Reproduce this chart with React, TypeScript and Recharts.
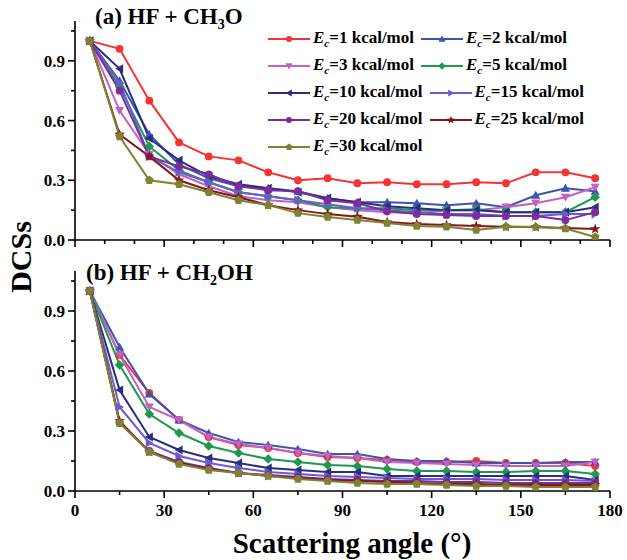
import React from 'react';
import { LineChart, Line, XAxis, YAxis } from 'recharts';

const angles = [5, 15, 25, 35, 45, 55, 65, 75, 85, 95, 105, 115, 125, 135, 145, 155, 165, 175];
const energies = [1, 2, 3, 5, 10, 15, 20, 25, 30];

// panel (a) HF + CH3O
const aEc1 = [1.0, 0.96, 0.7, 0.49, 0.42, 0.4, 0.34, 0.3, 0.31, 0.285, 0.29, 0.28, 0.28, 0.29, 0.285, 0.34, 0.34, 0.31];
const aEc2 = [1.0, 0.8, 0.53, 0.38, 0.31, 0.27, 0.26, 0.245, 0.21, 0.19, 0.19, 0.185, 0.175, 0.185, 0.165, 0.225, 0.26, 0.245];
const aEc3 = [1.0, 0.65, 0.43, 0.33, 0.27, 0.22, 0.2, 0.19, 0.165, 0.15, 0.14, 0.135, 0.15, 0.15, 0.165, 0.185, 0.215, 0.265];
const aEc5 = [1.0, 0.77, 0.47, 0.35, 0.29, 0.24, 0.22, 0.2, 0.165, 0.16, 0.16, 0.15, 0.15, 0.155, 0.14, 0.14, 0.14, 0.215];
const aEc10 = [1.0, 0.86, 0.51, 0.4, 0.32, 0.28, 0.26, 0.24, 0.21, 0.19, 0.17, 0.16, 0.15, 0.15, 0.14, 0.14, 0.14, 0.165];
const aEc15 = [1.0, 0.79, 0.42, 0.34, 0.29, 0.24, 0.22, 0.2, 0.18, 0.16, 0.15, 0.14, 0.13, 0.13, 0.12, 0.12, 0.13, 0.13];
const aEc20 = [1.0, 0.75, 0.42, 0.37, 0.33, 0.27, 0.25, 0.245, 0.2, 0.185, 0.145, 0.13, 0.125, 0.12, 0.12, 0.12, 0.1, 0.14];
const aEc25 = [1.0, 0.53, 0.42, 0.3, 0.25, 0.215, 0.175, 0.15, 0.13, 0.117, 0.09, 0.08, 0.075, 0.07, 0.067, 0.065, 0.06, 0.055];
const aEc30 = [1.0, 0.52, 0.3, 0.28, 0.24, 0.2, 0.175, 0.135, 0.115, 0.1, 0.085, 0.07, 0.067, 0.05, 0.067, 0.065, 0.058, 0.015];

// panel (b) HF + CH2OH
const bEc1 = [1.0, 0.68, 0.49, 0.355, 0.27, 0.23, 0.215, 0.19, 0.17, 0.165, 0.155, 0.145, 0.145, 0.15, 0.14, 0.14, 0.14, 0.125];
const bEc2 = [1.0, 0.72, 0.485, 0.355, 0.29, 0.245, 0.23, 0.21, 0.185, 0.185, 0.16, 0.15, 0.15, 0.14, 0.14, 0.14, 0.145, 0.145];
const bEc3 = [1.0, 0.68, 0.42, 0.355, 0.27, 0.235, 0.215, 0.19, 0.175, 0.165, 0.145, 0.14, 0.135, 0.13, 0.125, 0.125, 0.125, 0.145];
const bEc5 = [1.0, 0.63, 0.385, 0.29, 0.225, 0.19, 0.16, 0.145, 0.13, 0.125, 0.11, 0.1, 0.1, 0.095, 0.095, 0.1, 0.1, 0.085];
const bEc10 = [1.0, 0.505, 0.27, 0.205, 0.165, 0.14, 0.115, 0.105, 0.095, 0.095, 0.075, 0.075, 0.075, 0.075, 0.075, 0.075, 0.075, 0.055];
const bEc15 = [1.0, 0.42, 0.24, 0.175, 0.14, 0.115, 0.095, 0.085, 0.075, 0.07, 0.065, 0.06, 0.06, 0.06, 0.055, 0.055, 0.055, 0.05];
const bEc20 = [1.0, 0.34, 0.2, 0.145, 0.115, 0.09, 0.08, 0.07, 0.06, 0.055, 0.05, 0.05, 0.045, 0.045, 0.04, 0.04, 0.04, 0.04];
const bEc25 = [1.0, 0.35, 0.195, 0.14, 0.11, 0.09, 0.075, 0.065, 0.055, 0.05, 0.045, 0.04, 0.035, 0.035, 0.03, 0.03, 0.03, 0.03];
const bEc30 = [1.0, 0.34, 0.195, 0.135, 0.105, 0.09, 0.075, 0.06, 0.05, 0.04, 0.035, 0.035, 0.03, 0.025, 0.025, 0.02, 0.02, 0.02];

const xTicksA = [0, 10, 20, 30, 40, 50, 60, 70, 80, 90, 100, 110, 120, 130, 140, 150, 160, 170, 180];
const xTicksB = [0, 15, 30, 45, 60, 75, 90, 105, 120, 135, 150, 165, 180];
const yTicks = [0, 0.15, 0.3, 0.45, 0.6, 0.75, 0.9, 1.05];

const colors = ['#f23434', '#3a56b0', '#c462c4', '#1c9a4c', '#2c2c82', '#6a5cd0', '#7c2c9c', '#821818', '#7e8232'];
const shapes = ['circle', 'up', 'down', 'diamond', 'left', 'right', 'circle', 'star', 'pentagon'];

const FONT = '"Liberation Serif", "Times New Roman", serif';

const buildRows = (cols: number[][]) =>
  angles.map((a, i) => {
    const row: Record<string, number> = { angle: a };
    cols.forEach((c, k) => (row['ec' + energies[k]] = c[i]));
    return row;
  });

const dataA = buildRows([aEc1, aEc2, aEc3, aEc5, aEc10, aEc15, aEc20, aEc25, aEc30]);
const dataB = buildRows([bEc1, bEc2, bEc3, bEc5, bEc10, bEc15, bEc20, bEc25, bEc30]);

function polyPoints(cx: number, cy: number, n: number, r: number, rot: number, inner?: number) {
  const pts: string[] = [];
  const count = inner ? n * 2 : n;
  for (let i = 0; i < count; i++) {
    const rr = inner && i % 2 === 1 ? inner : r;
    const ang = rot + (i * Math.PI * 2) / count;
    pts.push(`${cx + rr * Math.cos(ang)},${cy + rr * Math.sin(ang)}`);
  }
  return pts.join(' ');
}

function Marker({ cx, cy, shape, color, s }: { cx: number; cy: number; shape: string; color: string; s: number }) {
  if (cx == null || cy == null) return null;
  const up = -Math.PI / 2;
  if (shape === 'circle') return <circle cx={cx} cy={cy} r={s * 0.85} fill={color} />;
  if (shape === 'up') return <polygon points={polyPoints(cx, cy + s * 0.2, 3, s * 1.15, up)} fill={color} />;
  if (shape === 'down') return <polygon points={polyPoints(cx, cy - s * 0.2, 3, s * 1.15, Math.PI / 2)} fill={color} />;
  if (shape === 'left') return <polygon points={polyPoints(cx + s * 0.2, cy, 3, s * 1.15, Math.PI)} fill={color} />;
  if (shape === 'right') return <polygon points={polyPoints(cx - s * 0.2, cy, 3, s * 1.15, 0)} fill={color} />;
  if (shape === 'diamond') return <polygon points={polyPoints(cx, cy, 4, s * 1.05, up)} fill={color} />;
  if (shape === 'star') return <polygon points={polyPoints(cx, cy, 5, s * 1.2, up, s * 0.5)} fill={color} />;
  return <polygon points={polyPoints(cx, cy, 5, s, up)} fill={color} />;
}

const makeDot = (shape: string, color: string) => (p: any) =>
  <Marker key={p.key ?? `d${p.index}`} cx={p.cx} cy={p.cy} shape={shape} color={color} s={4.6} />;

function XTick({ x, y, payload, showLabel }: any) {
  const v = payload.value;
  const major = v % 30 === 0;
  return (
    <g>
      <line x1={x} x2={x} y1={y} y2={y + (major ? 7 : 4)} stroke="#000" strokeWidth={1.6} />
      {showLabel && major && (
        <text x={x} y={y + 25} textAnchor="middle" fontFamily={FONT} fontWeight="bold" fontSize={17} fill="#000">
          {v}
        </text>
      )}
    </g>
  );
}

function YTick({ x, y, payload }: any) {
  const v = payload.value;
  const major = Math.abs(v / 0.3 - Math.round(v / 0.3)) < 1e-6;
  return (
    <g>
      <line x1={x - (major ? 7 : 4)} x2={x} y1={y} y2={y} stroke="#000" strokeWidth={1.6} />
      {major && (
        <text x={x - 10} y={y + 6} textAnchor="end" fontFamily={FONT} fontWeight="bold" fontSize={17} fill="#000">
          {v.toFixed(1)}
        </text>
      )}
    </g>
  );
}

function Panel({ data, ticks, showLabel, height, xAxisHeight }: any) {
  return (
    <LineChart width={627} height={height} data={data} margin={{ top: 21, right: 17, left: 30, bottom: 0 }}>
      <XAxis
        type="number"
        dataKey="angle"
        domain={[0, 180]}
        ticks={ticks}
        interval={0}
        height={xAxisHeight}
        tickSize={0}
        tickMargin={0}
        tickLine={false}
        axisLine={{ stroke: '#000', strokeWidth: 1.6 }}
        tick={<XTick showLabel={showLabel} />}
      />
      <YAxis
        type="number"
        domain={[0, 1.1]}
        ticks={yTicks}
        interval={0}
        width={45}
        tickSize={0}
        tickMargin={0}
        tickLine={false}
        axisLine={{ stroke: '#000', strokeWidth: 1.6 }}
        tick={<YTick />}
        allowDataOverflow
      />
      {energies.map((e, k) => (
        <Line
          key={e}
          type="linear"
          dataKey={'ec' + e}
          stroke={colors[k]}
          strokeWidth={2}
          dot={makeDot(shapes[k], colors[k])}
          activeDot={false}
          isAnimationActive={false}
        />
      ))}
    </LineChart>
  );
}

function LegendItem({ k }: { k: number }) {
  return (
    <div style={{ display: 'flex', alignItems: 'center', marginRight: 7 }}>
      <svg width={42} height={14}>
        <line x1={0} x2={42} y1={7} y2={7} stroke={colors[k]} strokeWidth={2} />
        <Marker cx={21} cy={7} shape={shapes[k]} color={colors[k]} s={3.6} />
      </svg>
      <span style={{ marginLeft: 3, whiteSpace: 'nowrap' }}>
        <i>E</i>
        <sub style={{ fontStyle: 'italic', fontSize: 11, verticalAlign: -4 }}>c</sub>={energies[k]} kcal/mol
      </span>
    </div>
  );
}

const legendRows = [[0, 1], [2, 3], [4, 5], [6, 7], [8]];

export default function App() {
  return (
    <div style={{ position: 'absolute', left: 0, top: 0, width: 627, height: 560, background: '#fff', fontFamily: FONT, fontWeight: 'bold', color: '#000', overflow: 'hidden' }}>
      <div style={{ position: 'absolute', left: 0, top: 0 }}>
        <Panel data={dataA} ticks={xTicksA} showLabel={false} height={262} xAxisHeight={22} />
      </div>
      <div style={{ position: 'absolute', left: 0, top: 250 }}>
        <Panel data={dataB} ticks={xTicksB} showLabel={true} height={310} xAxisHeight={69} />
      </div>
      <div style={{ position: 'absolute', left: 95, top: 4, fontSize: 23, whiteSpace: 'nowrap' }}>
        (a) HF + CH<sub style={{ fontSize: 14, verticalAlign: -5 }}>3</sub>O
      </div>
      <div style={{ position: 'absolute', left: 86, top: 260, fontSize: 23, whiteSpace: 'nowrap' }}>
        (b) HF + CH<sub style={{ fontSize: 14, verticalAlign: -5 }}>2</sub>OH
      </div>
      <div style={{ position: 'absolute', left: 268, top: 25, fontSize: 17 }}>
        {legendRows.map((r, i) => (
          <div key={i} style={{ display: 'flex', height: 27, alignItems: 'center' }}>
            {r.map((k) => (
              <LegendItem key={k} k={k} />
            ))}
          </div>
        ))}
      </div>
      <div
        style={{
          position: 'absolute',
          left: 21,
          top: 257,
          fontSize: 30,
          transform: 'translate(-50%, -50%) rotate(-90deg)',
          whiteSpace: 'nowrap',
        }}
      >
        DCSs
      </div>
      <div style={{ position: 'absolute', left: 352, top: 527, fontSize: 29, transform: 'translateX(-50%)', whiteSpace: 'nowrap' }}>
        Scattering angle (°)
      </div>
    </div>
  );
}
